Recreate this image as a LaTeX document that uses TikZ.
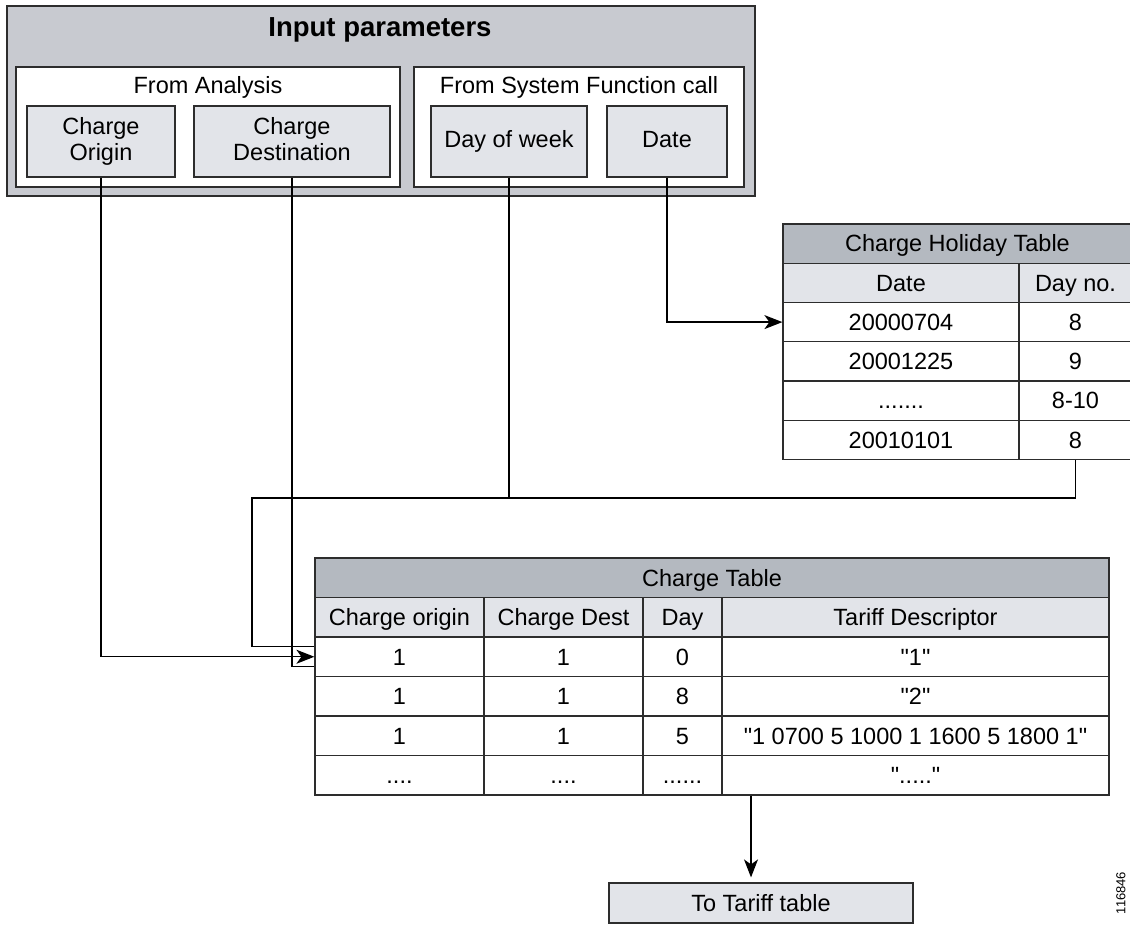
\documentclass[tikz,border=0pt]{standalone}
\usepackage{fontspec}
\setmainfont{Liberation Sans}
\usetikzlibrary{arrows.meta}

\definecolor{paramgray}{RGB}{200,202,208}
\definecolor{cellgray}{RGB}{226,228,233}
\definecolor{titlegray}{RGB}{180,185,192}
\definecolor{rulegray}{RGB}{45,45,45}

\newcommand{\qt}[1]{\textquotedbl#1\textquotedbl}

\tikzset{
  txt/.style={font=\fontsize{23.5}{26}\selectfont},
  cell/.style={txt, draw=rulegray, line width=1.2pt, inner sep=0pt, align=center},
  param/.style={cell, fill=cellgray, text depth=5pt},
  rcell/.style={cell, text height=18pt, text depth=1.5pt},
  hcell/.style={rcell, fill=cellgray},
  tcell/.style={rcell, fill=titlegray},
  link/.style={line width=1.3pt, draw=black},
  arrowed/.style={-{Stealth[length=18pt,width=14pt,inset=5pt]}}
}

\begin{document}
\begin{tikzpicture}[x=1pt, y=-1pt]
  \useasboundingbox (0,0) rectangle (1130,925);

  % Input parameters
  \node[cell, fill=paramgray, minimum width=748, minimum height=190] (ip) at (381,101) {};
  \node[font=\bfseries\fontsize{27.5}{30}\selectfont] (iptitle) at (380,30) {Input parameters};
  \node[cell, fill=white, minimum width=384, minimum height=120] (fa) at (208,127) {};
  \node[txt] (fatitle) at (208,87) {From Analysis};
  \node[cell, fill=white, minimum width=330, minimum height=120] (fs) at (579,127) {};
  \node[txt] (fstitle) at (579,87) {From System Function call};
  \node[param, minimum width=148, minimum height=71] (co) at (101,141.5) {Charge\\Origin};
  \node[param, minimum width=196, minimum height=71] (cd) at (292,141.5) {Charge\\Destination};
  \node[param, minimum width=156, minimum height=71] (dw) at (509,141.5) {Day of week};
  \node[param, minimum width=120, minimum height=71] (dt) at (667,141.5) {Date};

  % Charge Holiday Table
  \node[tcell, minimum width=349, minimum height=39.25] (h0) at (957.5,243.6) {Charge Holiday Table};
  \node[hcell, minimum width=236, minimum height=39.25] (hd1) at (901,282.9) {Date};
  \node[hcell, minimum width=113, minimum height=39.25] (hd2) at (1075.5,282.9) {Day no.};
  \node[rcell, minimum width=236, minimum height=39.25] (h11) at (901,322.1) {20000704};
  \node[rcell, minimum width=113, minimum height=39.25] (h12) at (1075.5,322.1) {8};
  \node[rcell, minimum width=236, minimum height=39.25] (h21) at (901,361.4) {20001225};
  \node[rcell, minimum width=113, minimum height=39.25] (h22) at (1075.5,361.4) {9};
  \node[rcell, minimum width=236, minimum height=39.25] (h31) at (901,400.6) {.......};
  \node[rcell, minimum width=113, minimum height=39.25] (h32) at (1075.5,400.6) {8-10};
  \node[rcell, minimum width=236, minimum height=39.25] (h41) at (901,439.9) {20010101};
  \node[rcell, minimum width=113, minimum height=39.25] (h42) at (1075.5,439.9) {8};

  % Charge Table
  \node[tcell, minimum width=794, minimum height=39.5] (c0) at (712,577.75) {Charge Table};
  \node[hcell, minimum width=169, minimum height=39.5] (cd1) at (399.5,617.25) {Charge origin};
  \node[hcell, minimum width=159, minimum height=39.5] (cd2) at (563.5,617.25) {Charge Dest};
  \node[hcell, minimum width=79, minimum height=39.5] (cd3) at (682.5,617.25) {Day};
  \node[hcell, minimum width=387, minimum height=39.5] (cd4) at (915.5,617.25) {Tariff Descriptor};
  \node[rcell, minimum width=169, minimum height=39.5] (c11) at (399.5,656.75) {1};
  \node[rcell, minimum width=159, minimum height=39.5] (c12) at (563.5,656.75) {1};
  \node[rcell, minimum width=79, minimum height=39.5] (c13) at (682.5,656.75) {0};
  \node[rcell, minimum width=387, minimum height=39.5] (c14) at (915.5,656.75) {\qt{1}};
  \node[rcell, minimum width=169, minimum height=39.5] (c21) at (399.5,696.25) {1};
  \node[rcell, minimum width=159, minimum height=39.5] (c22) at (563.5,696.25) {1};
  \node[rcell, minimum width=79, minimum height=39.5] (c23) at (682.5,696.25) {8};
  \node[rcell, minimum width=387, minimum height=39.5] (c24) at (915.5,696.25) {\qt{2}};
  \node[rcell, minimum width=169, minimum height=39.5] (c31) at (399.5,735.75) {1};
  \node[rcell, minimum width=159, minimum height=39.5] (c32) at (563.5,735.75) {1};
  \node[rcell, minimum width=79, minimum height=39.5] (c33) at (682.5,735.75) {5};
  \node[rcell, minimum width=387, minimum height=39.5] (c34) at (915.5,735.75) {\qt{1 0700 5 1000 1 1600 5 1800 1}};
  \node[rcell, minimum width=169, minimum height=39.5] (c41) at (399.5,775.25) {....};
  \node[rcell, minimum width=159, minimum height=39.5] (c42) at (563.5,775.25) {....};
  \node[rcell, minimum width=79, minimum height=39.5] (c43) at (682.5,775.25) {......};
  \node[rcell, minimum width=387, minimum height=39.5] (c44) at (915.5,775.25) {\qt{.....}};

  % To Tariff table
  \node[hcell, minimum width=304, minimum height=40] (tt) at (761,903) {To Tariff table};
  \node[rotate=90, font=\fontsize{13}{13}\selectfont] (fignum) at (1121,893) {116846};

  % Connectors
  \coordinate (bus) at (252,498);
  \draw[link, arrowed] (co.south) |- (c11.west);
  \draw[link] (cd.south) |- ([yshift=-10pt]c11.west);
  \draw[link] (h42.south) |- (bus) |- ([yshift=10pt]c11.west);
  \draw[link] (dw.south) -- (dw.south |- bus);
  \draw[link, arrowed] (dt.south) |- (h11.west);
  \draw[link, arrowed, shorten >=5pt] ([xshift=-10pt]tt.north |- c44.south) -- ([xshift=-10pt]tt.north);
\end{tikzpicture}
\end{document}
